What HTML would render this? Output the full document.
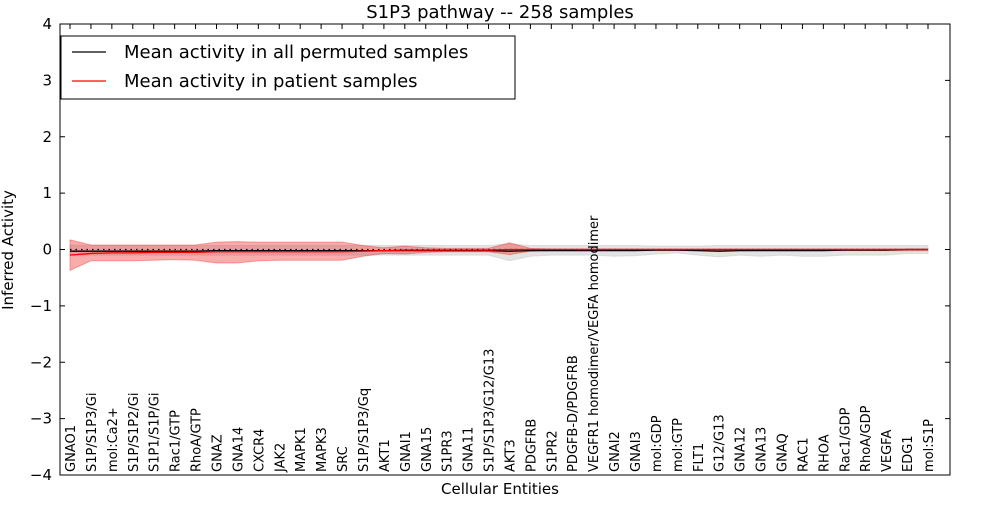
<!DOCTYPE html>
<html><head><meta charset="utf-8"><style>
body{margin:0;background:#fff;font-family:"Liberation Sans","DejaVu Sans",sans-serif}
svg text{font-family:"DejaVu Sans","Liberation Sans",sans-serif}
</style></head><body>
<svg id="c" width="1000" height="500"></svg>
<script>
const categories=["GNAO1","S1P/S1P3/Gi","mol:Ca2+","S1P/S1P2/Gi","S1P1/S1P/Gi","Rac1/GTP","RhoA/GTP","GNAZ","GNA14","CXCR4","JAK2","MAPK1","MAPK3","SRC","S1P/S1P3/Gq","AKT1","GNAI1","GNA15","S1PR3","GNA11","S1P/S1P3/G12/G13","AKT3","PDGFRB","S1PR2","PDGFB-D/PDGFRB","VEGFR1 homodimer/VEGFA homodimer","GNAI2","GNAI3","mol:GDP","mol:GTP","FLT1","G12/G13","GNA12","GNA13","GNAQ","RAC1","RHOA","Rac1/GDP","RhoA/GDP","VEGFA","EDG1","mol:S1P"];
const patientMean=[-0.1,-0.07,-0.06,-0.06,-0.05,-0.05,-0.05,-0.04,-0.04,-0.04,-0.04,-0.04,-0.04,-0.04,-0.03,-0.02,-0.01,-0.01,-0.01,-0.01,-0.01,0,0,0,0,0,0,0,0,0,0,0,0,0,0,0,0,0,0,0,0,0];
const patientHi=[0.17,0.08,0.08,0.08,0.08,0.08,0.08,0.13,0.14,0.13,0.13,0.13,0.13,0.13,0.07,0.03,0.06,0.03,0.02,0.02,0.02,0.12,0.02,0.01,0.01,0.01,0.01,0.01,0.01,0.01,0.01,0.01,0.01,0.01,0.01,0.01,0.01,0.01,0.01,0.01,0.01,0.01];
const patientLo=[-0.37,-0.2,-0.2,-0.2,-0.19,-0.18,-0.19,-0.24,-0.24,-0.2,-0.19,-0.19,-0.19,-0.19,-0.12,-0.07,-0.08,-0.05,-0.04,-0.04,-0.04,-0.09,-0.03,-0.02,-0.02,-0.02,-0.02,-0.02,-0.02,-0.02,-0.02,-0.02,-0.02,-0.02,-0.02,-0.02,-0.02,-0.02,-0.02,-0.02,-0.02,-0.02];
const permMean=[-0.03,-0.03,-0.03,-0.03,-0.03,-0.03,-0.03,-0.02,-0.02,-0.02,-0.02,-0.02,-0.02,-0.02,-0.02,-0.02,-0.02,-0.02,-0.02,-0.02,-0.02,-0.03,-0.02,-0.02,-0.02,-0.02,-0.02,-0.02,-0.01,-0.01,-0.02,-0.03,-0.02,-0.02,-0.02,-0.02,-0.02,-0.01,-0.01,-0.01,0,0];
const permHi=[0.08,0.07,0.07,0.07,0.07,0.07,0.07,0.07,0.07,0.07,0.07,0.07,0.07,0.07,0.07,0.07,0.07,0.07,0.07,0.07,0.07,0.1,0.07,0.07,0.07,0.07,0.07,0.07,0.06,0.06,0.06,0.07,0.07,0.07,0.07,0.07,0.07,0.07,0.07,0.07,0.07,0.07];
const permLo=[-0.1,-0.1,-0.1,-0.1,-0.1,-0.1,-0.1,-0.1,-0.1,-0.1,-0.1,-0.1,-0.1,-0.1,-0.1,-0.1,-0.1,-0.1,-0.1,-0.1,-0.1,-0.2,-0.12,-0.1,-0.1,-0.1,-0.12,-0.11,-0.08,-0.06,-0.1,-0.13,-0.1,-0.12,-0.1,-0.12,-0.12,-0.1,-0.1,-0.1,-0.07,-0.07];
const yTicks=[-4,-3,-2,-1,0,1,2,3,4];
const NS="http://www.w3.org/2000/svg",svg=document.getElementById('c');
const L=60,R=950,T=24,B=475;
const X=i=>70+i*(928-70)/(categories.length-1);
const Y=v=>T+(4-v)/8*(B-T);
function mk(t,a,p){const e=document.createElementNS(NS,t);for(const k in a)e.setAttribute(k,a[k]);(p||svg).appendChild(e);return e;}
function band(hi,lo,fill,op,name){let d=hi.map((v,i)=>(i?'L':'M')+X(i)+','+Y(v)).join('');for(let i=lo.length-1;i>=0;i--)d+='L'+X(i)+','+Y(lo[i]);const p=mk('path',{d:d+'Z',fill:fill,'fill-opacity':op,stroke:fill,'stroke-opacity':op});

}
function line(v,col,w,dash,name){const p=mk('path',{d:v.map((y,i)=>(i?'L':'M')+X(i)+','+Y(y)).join(''),fill:'none',stroke:col,'stroke-width':w});if(dash)p.setAttribute('stroke-dasharray',dash);

}
band(permHi,permLo,'#c8c8c8',0.5,'permuted-band');
band(patientHi,patientLo,'#f03030',0.4,'patient-band');
line(categories.map(()=>0),'#000',1.2,'1.5,4','zero-dotted-line');
line(permMean,'#000',1.3,null,'permuted-mean-line');
line(patientMean,'#ff0000',1.3,null,'patient-mean-line');
const fr=mk('rect',{x:L,y:T,width:R-L,height:B-T,fill:'none',stroke:'#000'});

yTicks.forEach(v=>{const y=Y(v);mk('line',{x1:L,x2:L+5,y1:y,y2:y,stroke:'#000'});mk('line',{x1:R-5,x2:R,y1:y,y2:y,stroke:'#000'});
const t=mk('text',{x:L-8,y:y+5,'text-anchor':'end','font-size':15});t.textContent=(v<0?'\u2212':'')+Math.abs(v);
});
categories.forEach((c,i)=>{const x=X(i);mk('line',{x1:x,x2:x,y1:T,y2:T+5,stroke:'#000'});
const t=mk('text',{x:0,y:0,transform:`translate(${x+5},${B-3}) rotate(-90)`,'font-size':13});t.textContent=c;
});
let t=mk('text',{x:500,y:18,'text-anchor':'middle','font-size':18});t.textContent='S1P3 pathway -- 258 samples';

t=mk('text',{x:500,y:494,'text-anchor':'middle','font-size':15});t.textContent='Cellular Entities';

t=mk('text',{x:0,y:0,transform:'translate(13,250) rotate(-90)','text-anchor':'middle','font-size':15});t.textContent='Inferred Activity';

const lg=mk('g',{});
mk('rect',{x:61,y:36,width:454,height:63,fill:'#fff',stroke:'#000'},lg);
[['#000','Mean activity in all permuted samples',52],['#ff0000','Mean activity in patient samples',81]].forEach(([c,s,y])=>{
const g=mk('g',{},lg);
mk('line',{x1:72,x2:106,y1:y,y2:y,stroke:c,'stroke-width':1.3},g);
const tt=mk('text',{x:124,y:y+6,'font-size':18},g);tt.textContent=s;});
</script>
</body></html>
